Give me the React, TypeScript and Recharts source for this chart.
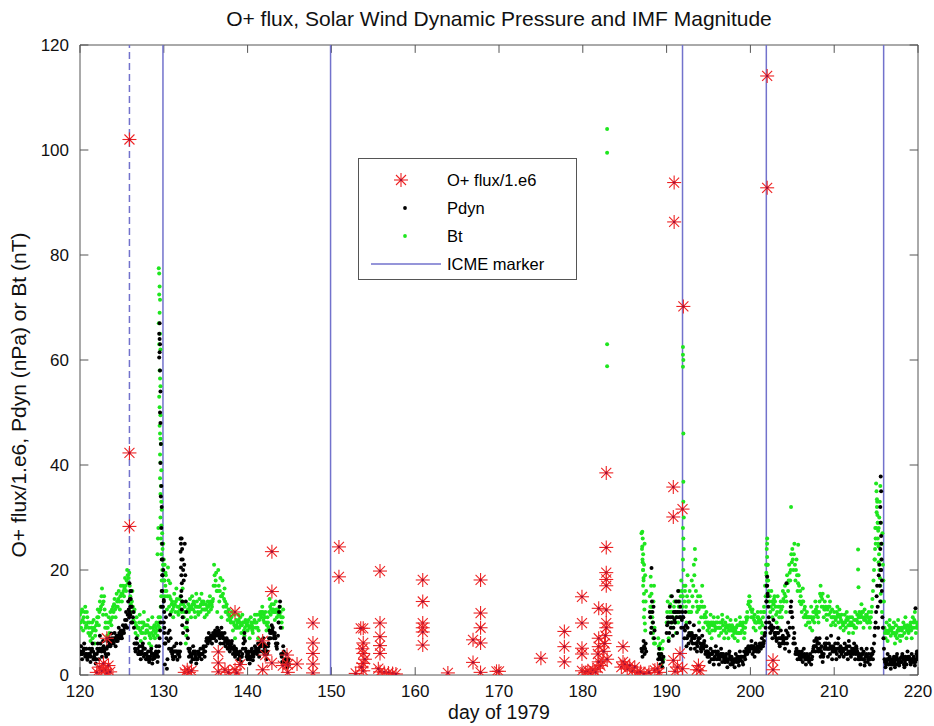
import React from "react";
import { ScatterChart, Scatter, XAxis, YAxis, ReferenceLine } from "recharts";

// ---- axes ----
const xTicks = [120, 130, 140, 150, 160, 170, 180, 190, 200, 210, 220];
const yTicks = [0, 20, 40, 60, 80, 100, 120];

// ---- ICME markers (day of year) ----
const icmeDashed = [125.9];
const icmeSolid = [129.9, 149.9, 191.9, 201.9, 215.9];

// ---- 3-hourly samples (day = start + i * STEP), second set offset by half a step ----
const STEP = 0.125;
const segAStart = 120;
const segBStart = 187;

// Bt (nT), days 120-144
const btA: (number | null)[] = [
  11.5, 9, 12.5, 8.5, 10, 13, 9.5, 11,
  8, 10, 6.5, 9, 7, 10.5, 6, 8.5,
  10, 12.5, 9.5, 14, 13, 16.5, 11.5, 15,
  9, 11.5, 7.5, 10, 8, 12, 9.5, 11,
  12, 14.5, 11, 15.5, 13, 16, 12.5, 17,
  14, 17, 15, 18.5, 16, 20, 17.5, 19.5,
  15, 12, 16, 10.5, 12.5, 8, 11, 7.5,
  9, 11.5, 6.5, 10, 8, 12, 7, 9.5,
  8.5, 10.5, 6, 9, 5.5, 11, 7.5, 9.5,
  8, 10, 7.5, 11, 9, 13, 18, 22,
  22, 15, 19, 12.5, 20.5, 13, 17.5, 12,
  14, 11, 15.5, 12, 16.5, 13, 11.5, 14.5,
  15, 12, 16.5, 11, 13, 6, 9, 12.5,
  12, 14.5, 11, 15, 12.5, 13.5, 11, 15.5,
  13, 11.5, 14.5, 12, 15.5, 12.5, 14, 11,
  13.5, 11.5, 14, 12, 15, 12.5, 13, 14.5,
  21, 17, 19.5, 12, 20, 14, 18.5, 11,
  18, 13, 16.5, 12, 13.5, 10.5, 12.5, 11,
  10, 12, 8.5, 11.5, 7, 10.5, 9, 11.5,
  9, 11, 8, 11.5, 10, 7.5, 10.5, 9.5,
  8.5, 10.5, 7, 11, 9.5, 8, 10, 11.5,
  9, 11.5, 7, 10.5, 12, 11, 13, 10.5,
  10, 12, 8.5, 11, 9, 14.5, 11.5, 13.5,
  12, 13.5, 10.5, 14, 11, 12.5, 10, 13,
  11, 9, 12.5,
];
const btA2: (number | null)[] = [
  10, 12, 10.5, 11, 12, 9, 12, 10,
  9, 7.5, 8, 10, 8.5, 9, 7.5, 9.5,
  11, 11, 12, 12.5, 15, 13.5, 14, 12.5,
  10, 9, 9, 11, 10, 10.5, 12.5, 13,
  13.5, 12.5, 13, 14, 14.5, 14, 15, 15.5,
  15.5, 16, 16.5, 17, 18, 19, 18.5, 17,
  13.5, 14, 13, 12, 10, 9.5, 9, 9,
  10, 8.5, 8, 9, 10, 9.5, 8, 8.5,
  9.5, 8, 7.5, 7, 8, 9, 8.5, 7,
  9, 8.5, 9.5, 10, 11, 15, 20, 25,
  18, 17, 16, 15, 18, 15, 14.5, 13.5,
  12.5, 13, 13.5, 14, 14.5, 12, 13, 12.5,
  13.5, 14, 13.5, 12, 9, 7.5, 10.5, 13.5,
  13, 12.5, 13, 13.5, 14, 12, 13, 14,
  12, 13, 13, 13.5, 14, 13.5, 12.5, 12.5,
  12.5, 13, 13, 13.5, 14, 13.5, 14, 17,
  19, 18, 16, 16, 17, 16, 15, 15,
  15.5, 14.5, 14, 13, 12, 11.5, 11.5, 10.5,
  11, 10, 10, 9.5, 9, 9.5, 10, 10.5,
  10, 9.5, 9.5, 10, 8.5, 9, 10, 10,
  9.5, 9, 9, 10, 8.5, 9, 10.5, 10,
  10, 9, 8.5, 11.5, 11.5, 12, 12, 11.5,
  11, 10, 9.5, 10, 12, 13, 12.5, 12.5,
  12.5, 12, 12, 12.5, 12, 11.5, 11.5, 12,
  10, 11,
];

// Pdyn (nPa), days 120-144
const pdA: (number | null)[] = [
  4, 5.5, 3, 4.5, 6, 3.5, 5, 2.9,
  3.5, 5, 2.5, 4.5, 6, 3, 4, 2.2,
  4, 6, 3, 7.5, 5, 3.5, 6.5, 4.5,
  5, 3.5, 6.5, 4, 7, 5.5, 7.9, 6,
  6, 8, 5.5, 7.5, 6.5, 9, 7, 8.5,
  7, 9.5, 8, 10.5, 12, 9, 14, 11,
  13, 16, 10, 12, 6, 4.5, 7, 5,
  4, 5.5, 3, 4.5, 6, 3.5, 5, 3,
  3, 4.5, 2.5, 3.5, 5, 2.2, 4, 3.2,
  3.5, 5.5, 2.5, 4.5, 7, 10, 16, 22,
  14, 2, 11, 1.2, 8, 5, 11.5, 4.5,
  4, 3, 5.5, 3.5, 6, 2.9, 4.5, 3.5,
  6, 26, 22, 18, 25, 14, 10, 7,
  3.5, 5, 2.5, 4, 5.5, 3, 4.5, 2.2,
  3, 4.5, 3.5, 5, 3, 4, 5.5, 3.5,
  5.5, 7, 6, 8, 6.5, 7.5, 6, 8,
  7, 8.5, 6.5, 9, 7.5, 8, 6, 9,
  7.5, 6, 8, 5.5, 7, 5, 6.5, 4.5,
  5, 6.5, 4, 5.5, 3.5, 5, 4.5, 3,
  3, 4.5, 2.5, 4, 6, 8, 5, 3.5,
  3, 4.5, 2.2, 3.5, 5, 2.8, 4, 5.5,
  5, 4, 6, 3.5, 5.5, 6.5, 4.5, 7,
  4, 5.5, 3, 4.5, 6, 8.5, 7, 9.5,
  9, 7, 8, 6, 5, 7.5, 12, 14,
  4, 2.5, 5.5, 3, 2, 4, 1.5, 3,
];
const pdA2: (number | null)[] = [
  4.5, 4, 4, 5, 5, 4, 4, 3.5,
  4, 4, 3.5, 5, 4.5, 3.5, 3, 3,
  5, 4.5, 5, 6, 4.5, 5, 5.5, 5,
  4, 5, 5.5, 5.5, 6, 6.5, 7, 6.5,
  7, 7, 6.5, 7, 7.5, 8, 8, 7.5,
  8, 8.5, 9, 9.5, 10.5, 11.5, 12.5, 12,
  14.5, 13, 11, 9, 5, 6, 6, 4,
  4.5, 4, 4, 5.5, 5, 4, 4, 4,
  3.5, 3.5, 3, 4.5, 4, 3, 3.5, 4,
  4.5, 4, 3.5, 5.5, 8.5, 13, 19, 20,
  9, 6, 7, 3, 6.5, 8.5, 7, 5,
  3.5, 4.5, 4.5, 4.5, 4.5, 4, 4, 4.5,
  15, 24, 20, 21, 19, 12, 8.5, 5,
  4.5, 4, 3.5, 3, 4.5, 4, 3.5, 3,
  4, 4, 4, 4, 4, 5, 4.5, 4.5,
  6.5, 6.5, 7, 7, 7, 7, 7, 7.5,
  8, 7.5, 8, 8, 8.5, 7, 7.5, 8,
  7, 7, 6.5, 6.5, 6, 6, 5.5, 5.5,
  6, 5, 5, 4.5, 4, 4, 4, 4,
  3.5, 3.5, 3.5, 5, 7, 6.5, 4.5, 4,
  4, 3.5, 3, 4.5, 4, 3.5, 4.5, 4.5,
  4.5, 5, 5, 4.5, 6, 5.5, 5.5, 6,
  5, 4.5, 4, 5.5, 7, 8, 8, 8.5,
  8, 7.5, 7, 5.5, 6, 10, 13, 9,
  3.5, 4, 4.5, 2.5, 3, 2.5, 2.5, 2,
];

// Bt (nT), days 187-220
const btB: (number | null)[] = [
  27, 22, 18, 25, 14, null, null, null,
  15, 11, 13, 8, 17, 6, null, null,
  7, 4, 6, 2, 5, 3, null, null,
  10, 14, 7, 12, 15, 9, 11, 13,
  12, 8, 14, 10, 16, 11, 18, 13,
  20, 14, 17, 10, 19, 12, 16, 8,
  18, 13, 21, 24, 16, 12, 15, 10,
  15, 11, 17, 9, 13, 10, 12, 8.5,
  10, 8, 11.5, 7, 9.5, 11, 8.5, 10,
  9, 11, 7.5, 10, 8, 11.5, 9.5, 7,
  10, 8, 11, 7, 9.5, 10.5, 8.5, 7.5,
  9, 7, 10.5, 8, 6.5, 9.5, 11, 8,
  8.5, 10, 7, 9, 11, 12, 13.5, 15,
  14, 11, 12.5, 9, 11.5, 8.5, 10, 12,
  10.5, 9, 12, 8, 11, 13, 17, 21,
  25, 18, 14, 12, 16, 11, 13.5, 15,
  13, 10, 15, 9, 12, 14, 11, 16,
  14, 17, 12, 19, 16, 21, 18, 23,
  24, 20, 25, 18, 22, 16, 19, 14,
  15, 12, 16.5, 11, 13, 9.5, 12, 10,
  11, 9, 13, 8.5, 12, 10, 14, 11.5,
  12, 10, 14, 17, 13, 15.5, 11, 14,
  13, 10.5, 15, 11.5, 14, 9.5, 12.5, 10,
  12, 9.5, 11, 13, 10, 12.5, 9, 11.5,
  10, 8.5, 11.5, 9, 12, 10.5, 8, 11,
  9.5, 11, 8, 10.5, 12, 9, 11.5, 10,
  12, 10, 13.5, 11, 9, 12.5, 10.5, 11.5,
  10, 12, 9, 11, 13, 16, 20, 24,
  28, 33, 25, 30, 36, 22, 27, 18,
  9, 7, 10, 6.5, 8.5, 10.5, 7.5, 9,
  8, 10, 6, 9.5, 7, 10.5, 8.5, 6.5,
  9, 7.5, 10, 8, 11, 7, 9.5, 8,
  8.5, 10, 7, 11, 9, 12, 8, 10,
  9,
];
const btB2: (number | null)[] = [
  24, 20, 21, 19, 16, null, null, null,
  13, 12, 10, 14, 9, null, null, null,
  5.5, 5, 4, 3.5, 6.5, null, null, null,
  12, 11, 10, 13.5, 12, 10, 12, 14,
  10, 11, 12, 13, 14, 15, 16, 15,
  17, 16, 13, 15, 14, 14, 12, 12,
  15, 17, 19, 22, 14, 13, 12.5, 13,
  13, 14, 13, 11, 11.5, 11, 10, 9.5,
  9, 9.5, 10, 8.5, 10, 9.5, 9, 9,
  10, 9, 9, 9, 10, 10.5, 8.5, 8.5,
  9, 9.5, 9, 8.5, 8.5, 9, 9.5, 8.5,
  8, 8.5, 9, 9.5, 8, 8, 10, 9.5,
  9.5, 9, 8, 10, 10.5, 11, 14, 13,
  12.5, 12, 11, 10.5, 10, 10, 11, 11,
  10, 10.5, 10, 9.5, 12, 12, 15, 19,
  21, 16, 15, 13, 14, 12.5, 14.5, 14,
  11.5, 12, 13, 11, 13, 12.5, 13, 14.5,
  15.5, 15, 14, 17.5, 18, 19.5, 20, 21.5,
  22, 23, 21, 20, 19, 17.5, 17, 16,
  13.5, 14, 14, 12.5, 11.5, 11, 11, 11,
  10, 11, 11, 10.5, 11, 12, 12.5, 13,
  11, 12, 15.5, 15, 14.5, 13, 12.5, 12.5,
  11.5, 12.5, 13, 13, 12, 11, 11, 11,
  11, 10.5, 12, 11.5, 11.5, 11, 10.5, 10,
  9.5, 10, 10, 10.5, 11, 9.5, 9.5, 10,
  10, 9.5, 9.5, 9, 10.5, 10.5, 10, 11,
  11, 11.5, 12, 12, 10.5, 11, 11.5, 10,
  11, 10.5, 10, 12, 14.5, 18, 22, 26,
  31, 29, 28, 33, 29, 25, 21, 14,
  8, 8.5, 8, 8, 9.5, 9, 8.5, 8,
  9, 8, 7.5, 8, 8.5, 9, 7.5, 7.5,
  8.5, 9, 9, 9.5, 9, 8.5, 8.5, 9,
  9.5, 8.5, 9, 10, 10.5, 10, 9, 9.5,
];

// Pdyn (nPa), days 187-220
const pdB: (number | null)[] = [
  5, 3.5, 6.5, 4, 6, null, null, null,
  12, 8, 14, 10, 7, null, null, null,
  3, 5, 2, 4, 1.5, 3.5, null, null,
  8, 11, 6.5, 13, 9, 15, 7.5, 12,
  10, 14, 8, 16, 11, 13, 9, 12,
  11, 7, 12, 5.5, 9, 6, 10, 5,
  8, 6, 9.5, 5, 7.5, 4.5, 6.5, 8.5,
  6, 4.5, 7.5, 5, 6.5, 4, 5.5, 3.5,
  4, 2.5, 5, 3, 4.5, 2, 3.5, 5.5,
  3, 4.5, 2, 3.5, 5, 2.5, 4, 3,
  2.5, 4, 1.5, 3, 4.5, 2, 3.5, 2,
  3, 1.5, 4, 2.5, 3.5, 1.8, 4.5, 2.8,
  3.5, 2, 4.5, 3, 5, 4, 5.5, 4.5,
  5, 6.5, 4, 5.5, 3.5, 6, 4.5, 5,
  4.5, 6, 5, 7, 5.5, 6.5, 8, 10,
  17, 13, 10, 8, 9.5, 7, 10.5, 8,
  8, 6.5, 9, 7, 5.5, 8.5, 6, 7.5,
  7, 5, 8.5, 6, 10, 4.5, 12, 14,
  11, 6, 8, 4, 5, 3, 4.5, 3.5,
  3, 4.5, 2.5, 5, 3.5, 2, 4, 3,
  2.5, 4, 2, 3.5, 5, 6.5, 4.5, 7,
  6, 4.5, 7, 3.5, 5.5, 2.5, 4, 6,
  5, 7, 3.5, 6, 4, 7.5, 3, 5.5,
  4.5, 6, 3, 5, 7, 3.5, 5.5, 4,
  5, 3.5, 6, 4, 5.5, 3, 6.5, 4.5,
  3.5, 5, 4, 6, 3, 5.5, 4.5, 3,
  4, 2, 5, 3, 4.5, 1.8, 3.5, 5,
  2.5, 4, 2, 3.5, 5, 3, 6, 9,
  12, 17, 9, 21, 14, 25, 11, 7,
  3, 1.5, 2.5, 4, 2, 3.5, 1.2, 3,
  2, 3.5, 1.5, 3, 4, 2.5, 1.8, 3.2,
  2.5, 4, 3, 1.5, 3.5, 2, 4.5, 3,
  3, 2, 4, 2.5, 3.5, 1.8, 3, 4.5,
  3,
];
const pdB2: (number | null)[] = [
  4.5, 5, 5.5, 5, 4.5, null, null, null,
  11, 9, 12, 13, 8.5, null, null, null,
  4, 3.5, 3, 3, 2.5, null, null, null,
  9.5, 10, 8, 11, 10, 11, 9, 10.5,
  12, 11, 12, 14, 12, 11, 10.5, 11,
  9, 8.5, 9.5, 7, 7.5, 8, 7.5, 6.5,
  7, 7.5, 7, 6, 6, 5.5, 7, 7,
  5, 5.5, 6, 6, 5.5, 4.5, 4.5, 4.5,
  3.5, 4, 4, 4, 3, 3, 4.5, 4,
  4, 3.5, 3, 4, 4, 3.5, 3.5, 2.5,
  3.5, 3, 2.5, 4, 3.5, 3, 2.5, 2.5,
  2.5, 3, 3, 3.5, 2.5, 3, 3.5, 3.5,
  2.5, 3.5, 3.5, 4, 4.5, 5, 5, 5,
  5.5, 5.5, 5, 4.5, 5, 5, 5.5, 4.5,
  5.5, 5.5, 6, 6, 6, 7.5, 9, 14,
  15, 11, 9, 9, 8.5, 9, 9, 7.5,
  7, 8, 8, 6, 7, 7, 7, 6.5,
  6, 7, 7, 8, 7.5, 9, 13, 12,
  9, 7, 6, 4.5, 4, 4, 4, 3,
  4, 3.5, 3.5, 4, 3, 3, 3.5, 3.5,
  3, 3, 3, 4.5, 5.5, 5.5, 5.5, 6.5,
  5, 6, 5, 4.5, 4, 3.5, 5, 5.5,
  6, 5, 5, 5, 5.5, 5, 4.5, 5,
  5, 4.5, 4, 6, 5, 4.5, 5, 5,
  4.5, 5, 5, 5, 4, 4.5, 5.5, 4,
  4.5, 4.5, 5, 4.5, 4, 5, 4, 3.5,
  3, 3.5, 4, 4, 3, 2.5, 4, 3.5,
  3, 3, 3, 4, 4, 4.5, 7.5, 10,
  15, 13, 19, 17, 20, 16, 9, 5,
  2.5, 2, 3, 3, 3, 2.5, 2, 2.5,
  3, 2.5, 2, 3.5, 3, 2, 2.5, 2.5,
  3.5, 3.5, 2, 2.5, 3, 3, 3.5, 3.5,
  2.5, 3, 3, 3, 2.5, 2.5, 4, 3.5,
];

// isolated / burst samples [day, value]
const btBursts: [number, number][] = [
  [129.4, 77.5], [129.45, 76.5], [129.5, 74], [129.45, 72.5], [129.55, 71.5], [129.5, 69],
  [129.4, 67], [129.55, 65], [129.45, 63], [129.6, 62], [129.5, 58], [129.55, 56.5],
  [129.6, 55], [129.45, 53], [129.5, 51], [129.6, 49.5], [129.5, 47.5], [129.55, 46],
  [129.6, 45], [129.65, 44], [129.55, 42], [129.6, 40.5], [129.7, 39], [129.55, 37.5],
  [129.65, 36], [129.6, 34.5], [129.7, 33], [129.75, 31.5], [129.6, 30], [129.7, 28.5],
  [129.8, 27], [129.65, 26], [129.75, 25], [129.85, 24], [129.7, 23], [129.8, 22],
  [129.9, 21], [129.3, 26], [129.35, 28], [129.25, 23],
  [130.05, 18], [130.1, 21], [130.15, 16], [130.2, 19.5],
  [182.9, 104], [182.9, 99.5], [182.9, 63], [182.9, 58.8],
  [187.1, 27.3], [187.15, 26], [187.1, 24.5], [187.2, 23], [187.15, 21.5], [187.2, 20],
  [187.25, 18.5], [187.2, 17], [187.3, 15.5], [187.25, 14], [187.35, 12.5], [187.3, 11],
  [187.4, 9.8], [187.45, 8.5],
  [188.1, 18.7], [188.15, 17], [188.2, 15.5], [188.2, 13], [188.3, 11], [188.35, 9],
  [188.4, 7], [188.5, 6],
  [191.95, 62.5], [191.95, 61], [192.0, 60], [191.95, 58.7], [192.0, 46], [192.0, 36.8],
  [192.0, 33], [192.05, 30], [191.95, 28], [192.0, 26], [192.05, 24], [191.95, 22],
  [202.0, 26], [201.95, 24], [202.0, 22.5], [202.05, 21], [201.9, 19.5], [202.0, 18],
  [204.85, 32], [205.7, 24.8],
  [212.85, 23.9], [212.85, 20.1], [212.9, 16.7],
  [215.0, 36.5], [215.05, 35], [215.1, 33.5], [215.1, 32], [215.15, 30.5], [215.2, 29],
  [215.25, 27.5], [215.2, 26], [215.3, 24.5], [215.35, 23], [215.3, 21.5], [215.4, 20],
  [215.45, 18.5], [215.5, 17], [215.55, 15.5], [214.9, 28], [214.95, 25], [214.85, 22],
  [215.6, 14], [215.7, 12],
];

const pdBursts: [number, number][] = [
  [125.9, 17.5], [126.0, 16], [125.95, 14.5], [126.05, 13], [126.0, 11.5], [126.1, 10],
  [129.5, 67], [129.45, 65], [129.5, 64], [129.55, 63], [129.5, 61.5], [129.45, 60.5],
  [129.55, 58], [129.6, 54], [129.55, 50], [129.6, 48], [129.65, 44], [129.6, 40.4],
  [129.7, 36], [129.65, 34], [129.75, 32], [129.7, 28], [129.8, 25], [129.75, 22],
  [129.85, 19], [129.8, 16], [129.9, 13],
  [130.0, 14.3], [130.05, 12], [130.0, 10], [130.05, 8], [130.1, 6],
  [132.0, 26], [132.05, 25], [132.0, 23.5], [132.1, 22], [132.05, 20.5], [132.1, 19],
  [132.15, 17.5], [132.1, 16], [132.2, 14], [132.15, 12.5], [132.25, 11], [132.2, 9.5],
  [132.3, 8],
  [188.2, 20.4],
  [202.0, 18.7], [201.95, 17], [202.05, 15.5], [201.9, 14],
  [204.3, 17.5],
  [215.55, 37.8], [215.6, 35], [215.5, 32], [215.55, 29], [215.6, 26.5], [215.5, 24],
  [215.65, 22], [215.6, 20], [215.7, 18],
  [219.7, 12.7],
];

// O+ flux / 1e6
const oFlux: [number, number][] = [
  [122.0, 0.5], [122.3, 1.5], [122.6, 0.8], [122.8, 2.2], [123.0, 1], [123.2, 0.4],
  [123.4, 1.8], [123.6, 0.6], [123.2, 7],
  [125.9, 102], [125.9, 42.3], [125.9, 28.3],
  [132.5, 0.5], [132.8, 1], [133.0, 0.5], [133.3, 0.8],
  [136.5, 4.4], [136.5, 2.3], [136.5, 0.6], [137.3, 1], [137.7, 0.5], [138.5, 12],
  [138.5, 1], [138.7, 0.4], [139.1, 2], [141.8, 1], [141.8, 6.5], [142.1, 3.8],
  [142.9, 23.5], [142.9, 15.9], [142.9, 2.3], [144.2, 1.8], [144.7, 3.8], [144.8, 0.5],
  [144.8, 2], [145.9, 2.1],
  [147.8, 9.9], [147.8, 6.1], [147.8, 4.1], [147.8, 2.1], [147.8, 0.4],
  [150.9, 24.4], [150.9, 18.7],
  [153.8, 8.9], [153.8, 6.1], [153.8, 4.1], [153.8, 2.2], [153.8, 0.8], [152.9, 0.3],
  [153.5, 8.9], [153.6, 1.5], [154.0, 3], [153.7, 5],
  [155.8, 19.8], [155.8, 9.9], [155.8, 7.3], [155.8, 5.6], [155.8, 4.1], [155.8, 0.6],
  [156.3, 0.5], [156.8, 0.4], [157.3, 0.3], [157.7, 0.2], [155.6, 1.2],
  [160.9, 18.1], [160.9, 14], [160.9, 9.9], [160.9, 9], [160.9, 8.2], [160.9, 5.7],
  [163.9, 0.4],
  [166.9, 6.7], [166.9, 2.4],
  [167.8, 18.1], [167.8, 11.8], [167.8, 9], [167.8, 6.1], [167.8, 0.5],
  [169.7, 0.7], [170.0, 0.7],
  [175.0, 3.2],
  [177.8, 8.3], [177.8, 5.4], [177.8, 2.5],
  [179.9, 14.9], [179.9, 9.9], [179.9, 5.1], [179.9, 4], [179.9, 0.8],
  [180.3, 0.5], [180.6, 0.8], [180.9, 0.4], [181.2, 1], [181.5, 0.6], [181.8, 1.3],
  [182.1, 1.8], [182.4, 2.5],
  [181.9, 12.7], [181.9, 7], [181.9, 5.4], [181.8, 4], [181.9, 2.5],
  [182.8, 38.5], [182.8, 24.3], [182.8, 19.5], [182.8, 18.2], [182.8, 17], [182.8, 12.4],
  [182.8, 9.9], [182.8, 9], [182.7, 7.5], [182.6, 6], [182.5, 4.5], [182.9, 3],
  [184.8, 5.4], [184.8, 2.5], [184.6, 1.5], [185.0, 2], [185.3, 1.2], [185.6, 1.8],
  [185.9, 0.8], [186.2, 1.5], [186.5, 0.5], [186.9, 0.6], [187.3, 0.3], [187.9, 0.5],
  [188.6, 0.9], [188.9, 1.2], [189.1, 0.5],
  [190.9, 93.8], [190.9, 86.3], [192.0, 70.2], [190.8, 35.8], [190.8, 30.1], [191.9, 31.6],
  [190.8, 2.8], [191.0, 0.7], [191.6, 4.1], [191.3, 1.5], [191.9, 1.2], [193.6, 1],
  [193.8, 1.8], [194.0, 0.8],
  [202.0, 114.1], [202.0, 92.8], [202.7, 2.8], [202.7, 1],
];

type Pt = { x: number; y: number };
const fromGrid = (arr: (number | null)[], start: number): Pt[] =>
  arr.flatMap((v, i) => (v == null ? [] : [{ x: start + i * STEP, y: v }]));
const fromPairs = (arr: [number, number][]): Pt[] => arr.map(([x, y]) => ({ x, y }));

const btData = [
  ...fromGrid(btA, segAStart),
  ...fromGrid(btA2, segAStart + STEP / 2),
  ...fromGrid(btB, segBStart),
  ...fromGrid(btB2, segBStart + STEP / 2),
  ...fromPairs(btBursts),
];
const pdData = [
  ...fromGrid(pdA, segAStart),
  ...fromGrid(pdA2, segAStart + STEP / 2),
  ...fromGrid(pdB, segBStart),
  ...fromGrid(pdB2, segBStart + STEP / 2),
  ...fromPairs(pdBursts),
];
const oData = fromPairs(oFlux);

const FONT = "'Liberation Sans', Arial, Helvetica, sans-serif";
const GREEN = "#1fe61f";
const RED = "#ee2222";
const ICME = "#7272cc";
const AXIS = "#555";

const StarShape = (p: any) => {
  const { cx, cy } = p;
  if (cx == null || cy == null) return <g />;
  const r = 7;
  const d = 5;
  return (
    <g stroke={RED} strokeWidth={1.1}>
      <line x1={cx - r} y1={cy} x2={cx + r} y2={cy} />
      <line x1={cx} y1={cy - r} x2={cx} y2={cy + r} />
      <line x1={cx - d} y1={cy - d} x2={cx + d} y2={cy + d} />
      <line x1={cx - d} y1={cy + d} x2={cx + d} y2={cy - d} />
      <circle cx={cx} cy={cy} r={1.3} fill="#a0103a" stroke="none" />
    </g>
  );
};

const dot = (color: string) => (p: any) => {
  const { cx, cy } = p;
  if (cx == null || cy == null) return <g />;
  return <circle cx={cx} cy={cy} r={2} fill={color} />;
};

const Legend = () => (
  <div
    style={{
      position: "absolute",
      left: 358,
      top: 158,
      width: 219,
      height: 122,
      border: "1px solid #555",
      background: "#fff",
      boxSizing: "border-box",
      fontFamily: FONT,
      fontSize: 16.5,
      color: "#111",
    }}
  >
    <svg width={219} height={122} style={{ position: "absolute", left: 0, top: 0 }}>
      <StarShape cx={42} cy={21} />
      <circle cx={46} cy={49} r={1.9} fill="#000" />
      <circle cx={46} cy={77} r={1.9} fill={GREEN} />
      <line x1={12} y1={105} x2={82} y2={105} stroke={ICME} strokeWidth={1.5} />
      <text x={88} y={27}>O+ flux/1.e6</text>
      <text x={88} y={55}>Pdyn</text>
      <text x={88} y={83}>Bt</text>
      <text x={88} y={111}>ICME marker</text>
    </svg>
  </div>
);

export default function App() {
  return (
    <div style={{ position: "absolute", left: 0, top: 0, width: 934, height: 726, background: "#fff", fontFamily: FONT }}>
      <div style={{ position: "absolute", left: 0, width: 998, top: 7, textAlign: "center", fontSize: 21, color: "#111", whiteSpace: "nowrap" }}>
        O+ flux, Solar Wind Dynamic Pressure and IMF Magnitude
      </div>
      <div style={{ position: "absolute", left: 0, width: 998, top: 701, textAlign: "center", fontSize: 19.5, color: "#111" }}>
        day of 1979
      </div>
      <div style={{ position: "absolute", left: 19, top: 395, width: 0, height: 0 }}>
        <div
          style={{
            position: "absolute",
            left: -250,
            top: -12,
            width: 500,
            textAlign: "center",
            fontSize: 21,
            color: "#111",
            transform: "rotate(-90deg)",
            whiteSpace: "nowrap",
          }}
        >
          O+ flux/1.e6, Pdyn (nPa) or Bt (nT)
        </div>
      </div>
      <ScatterChart width={934} height={726} margin={{ top: 45, right: 16, bottom: 21, left: 20 }}>
        <XAxis
          type="number"
          dataKey="x"
          domain={[120, 220]}
          ticks={xTicks}
          allowDataOverflow
          height={30}
          tickLine={false}
          tickMargin={4}
          axisLine={{ stroke: AXIS }}
          tick={{ fill: "#111", fontSize: 17, fontFamily: FONT }}
        />
        <YAxis
          type="number"
          dataKey="y"
          domain={[0, 120]}
          ticks={yTicks}
          allowDataOverflow
          width={60}
          tickLine={false}
          tickMargin={5}
          axisLine={{ stroke: AXIS }}
          tick={{ fill: "#111", fontSize: 17, fontFamily: FONT }}
        />
        <ReferenceLine y={120} stroke={AXIS} />
        <ReferenceLine x={220} stroke={AXIS} />
        {xTicks.map((t) => (
          <ReferenceLine key={"xb" + t} segment={[{ x: t, y: 0 }, { x: t, y: 1.5 }]} stroke={AXIS} />
        ))}
        {xTicks.map((t) => (
          <ReferenceLine key={"xt" + t} segment={[{ x: t, y: 120 }, { x: t, y: 118.5 }]} stroke={AXIS} />
        ))}
        {yTicks.map((t) => (
          <ReferenceLine key={"yl" + t} segment={[{ x: 120, y: t }, { x: 121, y: t }]} stroke={AXIS} />
        ))}
        {yTicks.map((t) => (
          <ReferenceLine key={"yr" + t} segment={[{ x: 220, y: t }, { x: 219, y: t }]} stroke={AXIS} />
        ))}
        <Scatter data={btData} fill={GREEN} shape={dot(GREEN)} isAnimationActive={false} />
        <Scatter data={pdData} fill="#000" shape={dot("#000")} isAnimationActive={false} />
        <Scatter data={oData} fill={RED} shape={StarShape} isAnimationActive={false} />
        {icmeDashed.map((d) => (
          <ReferenceLine key={"d" + d} x={d} stroke={ICME} strokeWidth={1.5} strokeDasharray="7 4" />
        ))}
        {icmeSolid.map((d) => (
          <ReferenceLine key={"s" + d} x={d} stroke={ICME} strokeWidth={1.5} />
        ))}
      </ScatterChart>
      <Legend />
    </div>
  );
}
